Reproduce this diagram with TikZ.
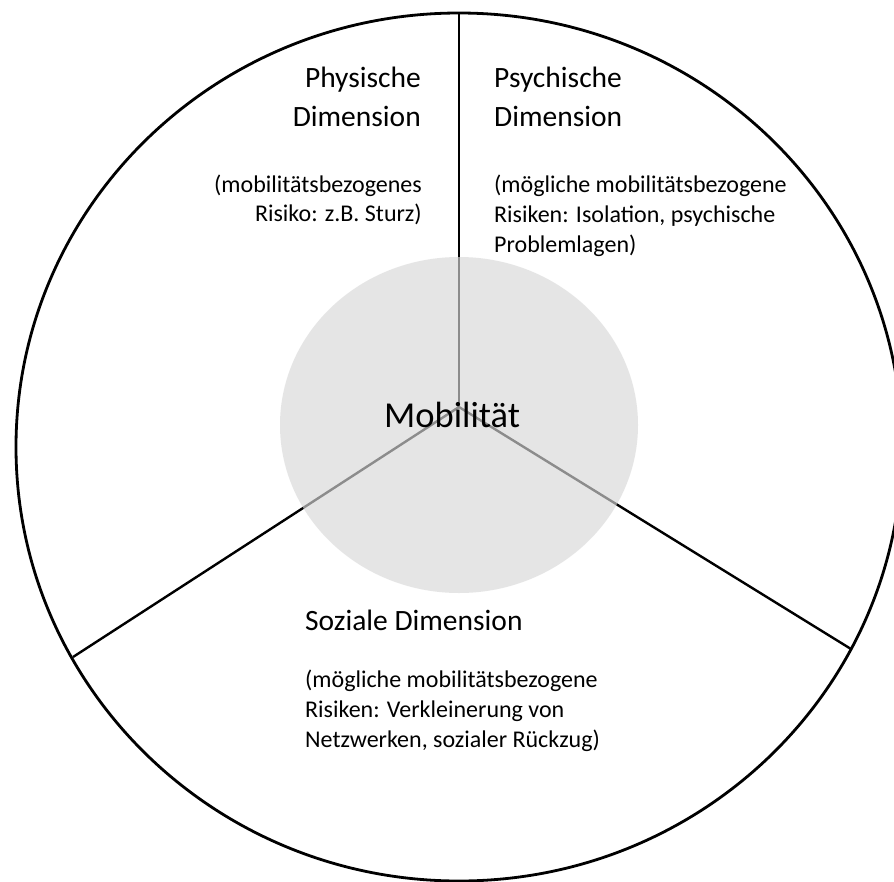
\documentclass[tikz,border=0pt]{standalone}
\usepackage{fontspec}
\usetikzlibrary{shapes.geometric}
\setmainfont{Carlito}
\begin{document}
\begin{tikzpicture}[x=1pt,y=-1pt,
  outer/.style={draw=black,line width=2.8pt},
  divider/.style={draw=black,line width=2.4pt},
  core/.style={fill={rgb,255:red,216;green,216;blue,216},fill opacity=0.65,draw=none},
  head/.style={inner sep=0pt,font=\fontsize{29.5}{35}\selectfont},
  body/.style={inner sep=0pt,font=\fontsize{24}{30}\selectfont},
  big/.style={inner sep=0pt,font=\fontsize{36.5}{44}\selectfont}]
\useasboundingbox (0,0) rectangle (894,881);
\fill[white] (0,0) rectangle (894,881);
\clip (0,0) rectangle (894,881);
% outer ellipse
\node[outer,ellipse,minimum width=886pt,minimum height=868pt,inner sep=0pt] (rim) at (459,447) {};
% dividers
\coordinate (j) at (459,407);
\coordinate (top) at (459,13);
\coordinate (bl) at (73,657);
\coordinate (br) at (851,649);
\draw[divider] (j) -- (top);
\draw[divider] (j) -- (bl);
\draw[divider] (j) -- (br);
% central disc
\fill[core] (459,425) ellipse [x radius=179, y radius=168];
\node[big,anchor=base west] (mob) at (384,427) {Mobilität};
% physical
\node[head,anchor=base east] (ph1) at (421,87) {Physische};
\node[head,anchor=base east] (ph2) at (421,126) {Dimension};
\node[body,anchor=base east] (ph3) at (422,192) {(mobilitätsbezogenes};
\node[body,anchor=base east] (ph4) at (422,221) {Risiko: z.B. Sturz)};
% psychic
\node[head,anchor=base west] (ps1) at (494,87) {Psychische};
\node[head,anchor=base west] (ps2) at (494,126) {Dimension};
\node[body,anchor=base west] (ps3) at (494,192) {(mögliche mobilitätsbezogene};
\node[body,anchor=base west] (ps4) at (494,222) {Risiken: Isolation, psychische};
\node[body,anchor=base west] (ps5) at (494,252) {Problemlagen)};
% social
\node[head,anchor=base west] (so1) at (305,630) {Soziale Dimension};
\node[body,anchor=base west] (so2) at (305,687) {(mögliche mobilitätsbezogene};
\node[body,anchor=base west] (so3) at (305,717) {Risiken: Verkleinerung von};
\node[body,anchor=base west] (so4) at (305,747) {Netzwerken, sozialer Rückzug)};
\end{tikzpicture}
\end{document}
